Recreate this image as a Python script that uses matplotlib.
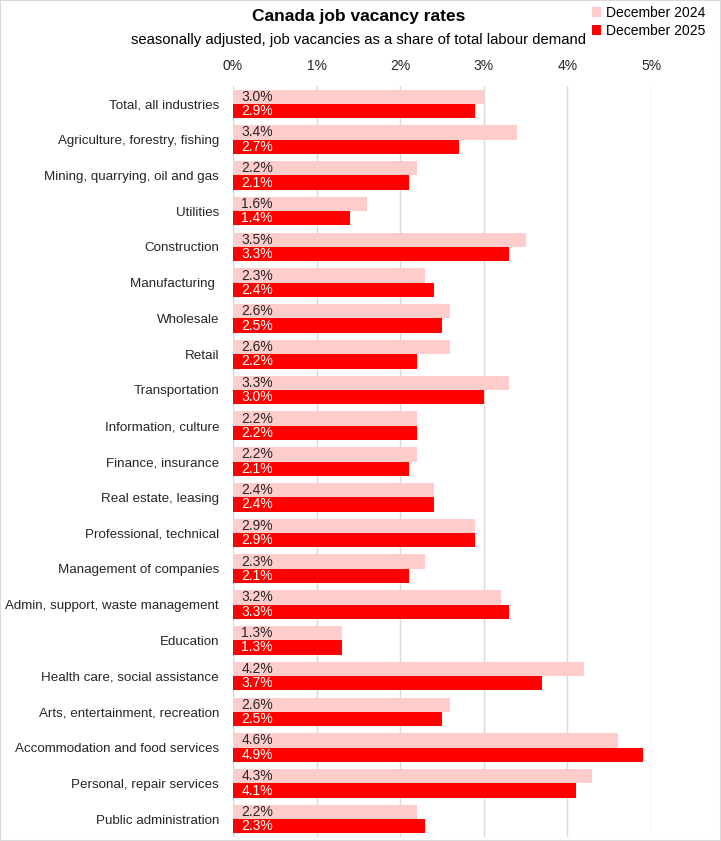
import numpy as np
import matplotlib.pyplot as plt
from matplotlib.patches import Rectangle

industrias = [
    "Total, all industries", "Agriculture, forestry, fishing", "Mining, quarrying, oil and gas",
    "Utilities", "Construction", "Manufacturing ", "Wholesale", "Retail", "Transportation",
    "Information, culture", "Finance, insurance", "Real estate, leasing", "Professional, technical",
    "Management of companies", "Admin, support, waste management", "Education",
    "Health care, social assistance", "Arts, entertainment, recreation",
    "Accommodation and food services", "Personal, repair services", "Public administration",
]
dic_2024 = [3.0, 3.4, 2.2, 1.6, 3.5, 2.3, 2.6, 2.6, 3.3, 2.2, 2.2, 2.4, 2.9, 2.3, 3.2, 1.3, 4.2, 2.6, 4.6, 4.3, 2.2]
dic_2025 = [2.9, 2.7, 2.1, 1.4, 3.3, 2.4, 2.5, 2.2, 3.0, 2.2, 2.1, 2.4, 2.9, 2.1, 3.3, 1.3, 3.7, 2.5, 4.9, 4.1, 2.3]
ticks_x = [0, 1, 2, 3, 4, 5]

plt.rcParams["font.family"] = ["Liberation Sans", "DejaVu Sans"]

fig = plt.figure(figsize=(7.21, 8.41), dpi=100)
ax = fig.add_axes([233 / 721, 4 / 841, (651 - 233) / 721, (837 - 86) / 841])

y = np.arange(len(industrias))
alto = 0.4
ax.barh(y - alto / 2, dic_2024, height=alto, color="#FFCCCC", label="December 2024", zorder=2)
ax.barh(y + alto / 2, dic_2025, height=alto, color="#FF0000", label="December 2025", zorder=2)

for yi, v1, v2 in zip(y, dic_2024, dic_2025):
    ax.text(0.1, yi - alto / 2, f"{v1:.1f}%", va="center", ha="left", fontsize=10, color="#262626", zorder=3)
    ax.text(0.1, yi + alto / 2, f"{v2:.1f}%", va="center", ha="left", fontsize=10, color="white", zorder=3)

ax.set_ylim(len(industrias) - 0.5, -0.5)
ax.set_xlim(0, 5)
ax.set_yticks(y)
ax.set_yticklabels(industrias, fontsize=9.6, color="#262626")
ax.set_xticks(ticks_x)
ax.set_xticklabels([f"{t}%" for t in ticks_x], fontsize=10, color="#262626")
ax.xaxis.tick_top()
ax.tick_params(axis="y", length=0, pad=10)
ax.tick_params(axis="x", length=0, pad=9)
ax.grid(axis="x", color="#D9D9D9", linewidth=1, zorder=0)
for lado in ax.spines.values():
    lado.set_visible(False)
ax.axvline(0, color="#D9D9D9", linewidth=1, zorder=1)

fig.text(0.498, 0.980, "Canada job vacancy rates", ha="center", va="center", fontsize=12.5, fontweight="bold")
fig.text(0.497, 0.953, "seasonally adjusted, job vacancies as a share of total labour demand",
         ha="center", va="center", fontsize=10.7)
fig.legend(loc="upper right", bbox_to_anchor=(0.995, 1.008), frameon=False, fontsize=10,
           handlelength=0.7, handleheight=0.7, handletextpad=0.3, labelspacing=0.3)

fig.patches.append(Rectangle((0, 0), 1, 1, transform=fig.transFigure, fill=False,
                             edgecolor="#D9D9D9", linewidth=1.5))

fig.savefig("out.png", dpi=100)
